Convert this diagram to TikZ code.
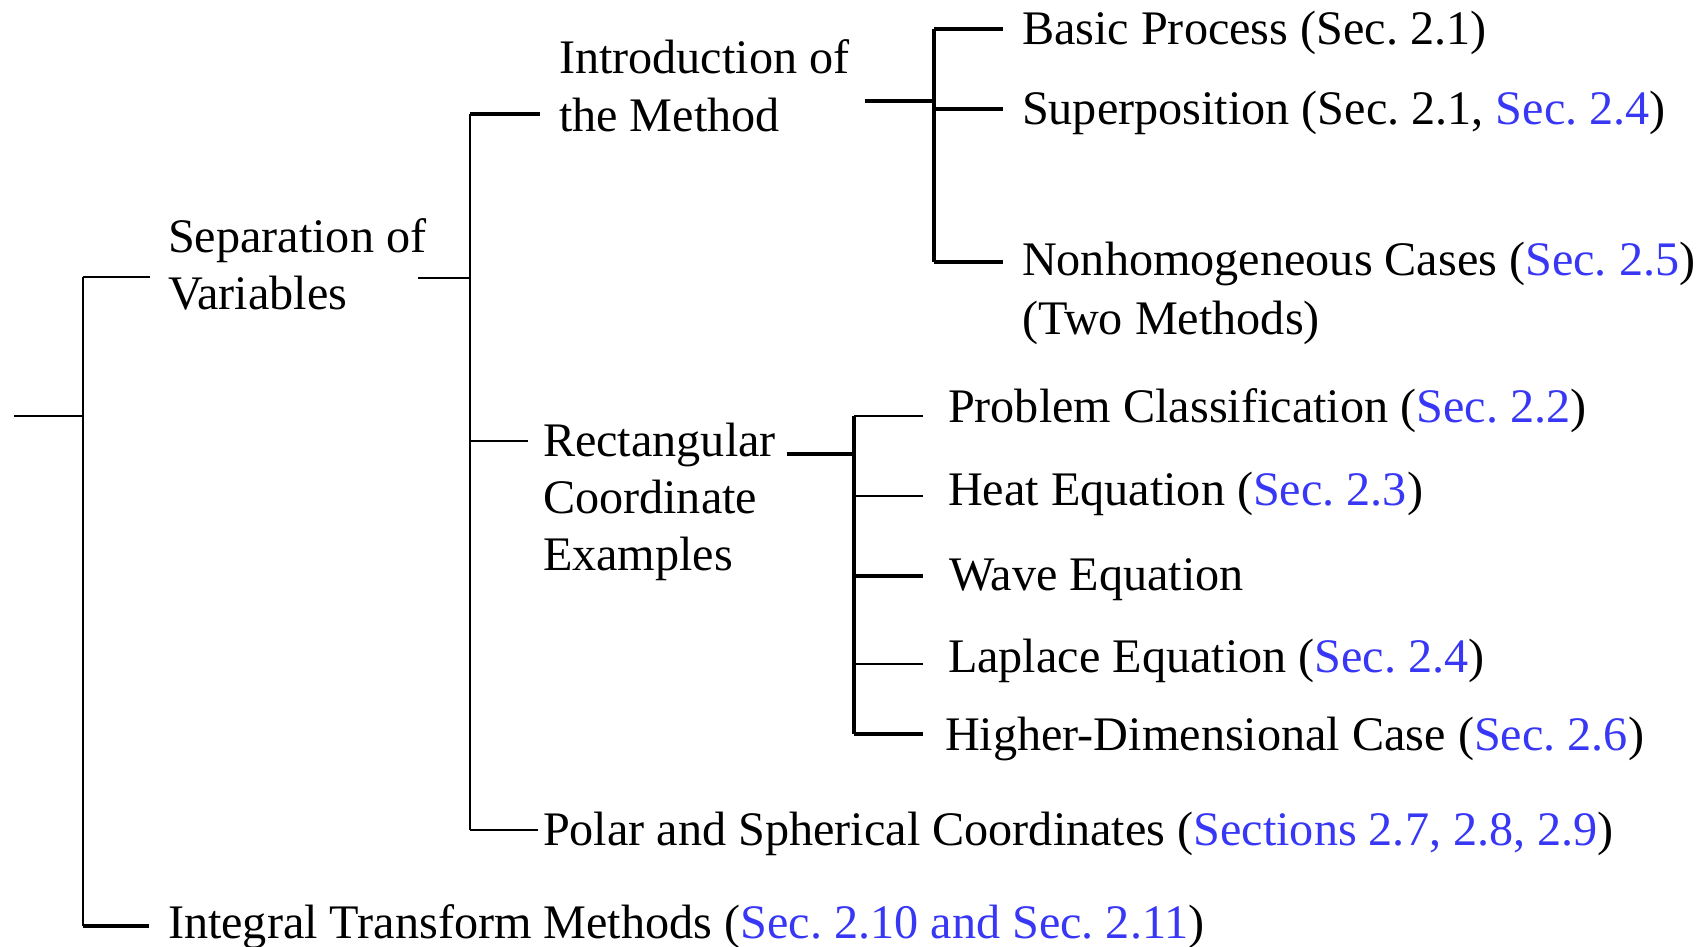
\documentclass[tikz,border=0pt]{standalone}
\usepackage{fontspec}
\setmainfont{Liberation Serif}
\frenchspacing
\definecolor{secblue}{RGB}{55,55,245}
\newcommand{\sref}[1]{\textcolor{secblue}{#1}}
\begin{document}
\begin{tikzpicture}[x=1pt,y=-1pt,
  lbl/.style={anchor=base west, inner sep=0pt, outer sep=0pt, font=\fontsize{48.2}{57}\selectfont\frenchspacing},
  lnthin/.style={line width=2pt},
  lnmid/.style={line width=2.6pt},
  lnthick/.style={line width=3.2pt}]
\useasboundingbox (0,0) rectangle (1701,947);

% ---- text nodes ----
\node[lbl] (sep) at (168,252) {\begin{tabular}[t]{@{}l@{}}Separation of\\Variables\end{tabular}};
\node[lbl] (integ) at (168,938) {Integral Transform Methods (\sref{Sec. 2.10 and Sec. 2.11})};
\node[lbl] (intro) at (559,74) {\begin{tabular}[t]{@{}l@{}}Introduction of\\[1pt]the Method\end{tabular}};
\node[lbl] (rect) at (543,456) {\begin{tabular}[t]{@{}l@{}}Rectangular\\Coordinate\\Examples\end{tabular}};
\node[lbl] (polar) at (543,845) {Polar and Spherical Coordinates (\sref{Sections 2.7, 2.8, 2.9})};
\node[lbl] (basic) at (1022,44.5) {Basic Process (Sec. 2.1)};
\node[lbl] (super) at (1022,125) {Superposition (Sec. 2.1, \sref{Sec. 2.4})};
\node[lbl] (nonh) at (1022,275) {\begin{tabular}[t]{@{}l@{}}Nonhomogeneous Cases (\sref{Sec. 2.5})\\[2pt](Two Methods)\end{tabular}};
\node[lbl] (prob) at (948,422.5) {Problem Classification (\sref{Sec. 2.2})};
\node[lbl] (heat) at (948,505.5) {Heat Equation (\sref{Sec. 2.3})};
\node[lbl] (wave) at (949,590) {Wave Equation};
\node[lbl] (lapl) at (948,672.5) {Laplace Equation (\sref{Sec. 2.4})};
\node[lbl] (high) at (945,750) {Higher-Dimensional Case (\sref{Sec. 2.6})};

% ---- junction coordinates ----
\coordinate (rootin) at (14,416);
\coordinate (rootj) at (83,416);
\coordinate (roottop) at (83,277);
\coordinate (rootbot) at (83,926);
\coordinate (sepin) at (150,277);
\coordinate (integin) at (149,926);

\coordinate (sepout) at (418,278);
\coordinate (sepj) at (470,278);
\coordinate (septop) at (470,114);
\coordinate (sepbot) at (470,830);
\coordinate (introin) at (540,114);
\coordinate (rectj) at (470,441);
\coordinate (rectin) at (528,441);
\coordinate (polarin) at (538,830);

\coordinate (introout) at (865,101);
\coordinate (introj) at (934,101);
\coordinate (introtop) at (934,29);
\coordinate (introbot) at (934,262);
\coordinate (basicj) at (934,29);
\coordinate (basicin) at (1003,29);
\coordinate (superj) at (934,109);
\coordinate (superin) at (1003,109);
\coordinate (nonhj) at (934,262);
\coordinate (nonhin) at (1003,262);

\coordinate (rectout) at (787,454);
\coordinate (rectj2) at (854,454);
\coordinate (recttop) at (854,416);
\coordinate (rectbot) at (854,734);
\coordinate (probj) at (854,416);
\coordinate (probin) at (923,416);
\coordinate (heatj) at (854,496);
\coordinate (heatin) at (923,496);
\coordinate (wavej) at (854,576);
\coordinate (wavein) at (923,576);
\coordinate (laplj) at (854,664);
\coordinate (laplin) at (923,664);
\coordinate (highj) at (854,734);
\coordinate (highin) at (923,734);

% ---- connectors ----
\draw[lnmid] (rootin) -- (rootj);
\draw[lnmid] (roottop) -- (rootbot);
\draw[lnmid] (roottop) -- (sepin);
\draw[lnthick] (rootbot) -- (integin);

\draw[lnmid] (sepout) -- (sepj);
\draw[lnthin] (septop) -- (sepbot);
\draw[lnthick] (septop) -- (introin);
\draw[lnthin] (rectj) -- (rectin);
\draw[lnmid] (sepbot) -- (polarin);

\draw[lnthick] (introout) -- (introj);
\draw[lnthick] (introtop) -- (introbot);
\draw[lnthick] (basicj) -- (basicin);
\draw[lnthick] (superj) -- (superin);
\draw[lnthick] (nonhj) -- (nonhin);

\draw[lnthick] (rectout) -- (rectj2);
\draw[lnthick] (recttop) -- (rectbot);
\draw[lnmid] (probj) -- (probin);
\draw[lnthin] (heatj) -- (heatin);
\draw[lnthick] (wavej) -- (wavein);
\draw[lnthin] (laplj) -- (laplin);
\draw[lnthick] (highj) -- (highin);
\end{tikzpicture}
\end{document}
